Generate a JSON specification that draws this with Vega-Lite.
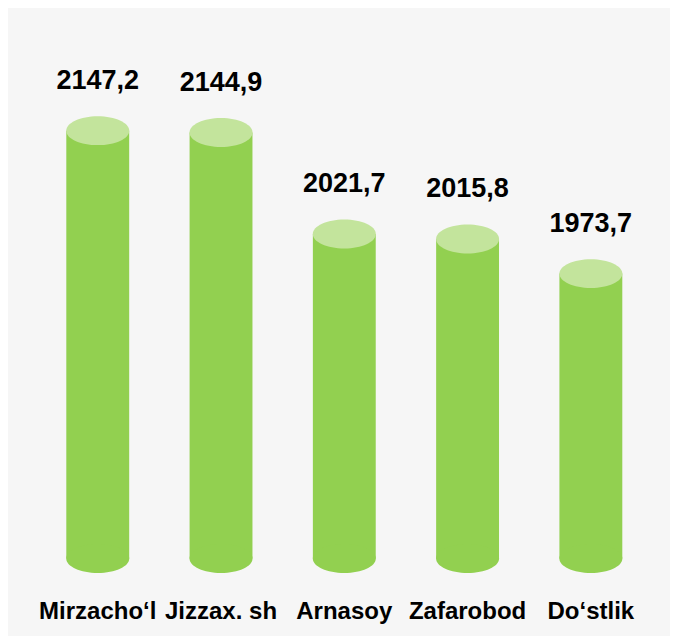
{
  "$schema": "https://vega.github.io/schema/vega-lite/v6.json",
  "autosize": "none",
  "width": 662,
  "height": 628,
  "padding": {"left": 8, "top": 8, "right": 10, "bottom": 8},
  "background": "#ffffff",
  "config": {
    "view": {"fill": "#f6f6f6", "stroke": null},
    "font": "Liberation Sans, Arial, sans-serif"
  },
  "data": {
    "values": [
      {"district": "Mirzacho‘l", "value": 2147.2, "label": "2147,2"},
      {"district": "Jizzax. sh", "value": 2144.9, "label": "2144,9"},
      {"district": "Arnasoy", "value": 2021.7, "label": "2021,7"},
      {"district": "Zafarobod", "value": 2015.8, "label": "2015,8"},
      {"district": "Do‘stlik", "value": 1973.7, "label": "1973,7"}
    ]
  },
  "encoding": {
    "x": {
      "field": "district",
      "type": "nominal",
      "sort": null,
      "scale": {"paddingInner": 0.49, "paddingOuter": 0.43, "align": 0.55},
      "axis": {
        "title": null,
        "orient": "bottom",
        "offset": -18,
        "domain": false,
        "ticks": false,
        "grid": false,
        "labelAngle": 0,
        "labelPadding": 0,
        "labelBaseline": "alphabetic",
        "labelFont": "Liberation Sans, Arial, sans-serif",
        "labelFontWeight": "bold",
        "labelFontSize": 24,
        "labelColor": "#000000",
        "labelFlush": false,
        "labelOverlap": false
      }
    }
  },
  "layer": [
    {
      "mark": {"type": "bar", "color": "#92D050", "width": {"band": 1}},
      "encoding": {
        "y": {
          "field": "value",
          "type": "quantitative",
          "scale": {"domain": [1534, 2296], "zero": false, "nice": false},
          "axis": null
        },
        "y2": {"datum": 1628}
      }
    },
    {
      "mark": {
        "type": "point",
        "filled": true,
        "opacity": 1,
        "size": 3969,
        "color": "#92D050",
        "strokeWidth": 0,
        "shape": "M-1,0C-1,-0.254 -0.5523,-0.46 0,-0.46C0.5523,-0.46 1,-0.254 1,0C1,0.254 0.5523,0.46 0,0.46C-0.5523,0.46 -1,0.254 -1,0Z"
      },
      "encoding": {
        "y": {"datum": 1628, "type": "quantitative"}
      }
    },
    {
      "mark": {
        "type": "point",
        "filled": true,
        "opacity": 1,
        "size": 3969,
        "color": "#C3E49C",
        "strokeWidth": 0,
        "shape": "M-1,0C-1,-0.254 -0.5523,-0.46 0,-0.46C0.5523,-0.46 1,-0.254 1,0C1,0.254 0.5523,0.46 0,0.46C-0.5523,0.46 -1,0.254 -1,0Z"
      },
      "encoding": {
        "y": {"field": "value", "type": "quantitative"}
      }
    },
    {
      "mark": {
        "type": "text",
        "font": "Liberation Sans, Arial, sans-serif",
        "fontWeight": "bold",
        "fontSize": 27,
        "color": "#000000",
        "baseline": "alphabetic",
        "dy": -42
      },
      "encoding": {
        "y": {"field": "value", "type": "quantitative"},
        "text": {"field": "label"}
      }
    }
  ]
}
